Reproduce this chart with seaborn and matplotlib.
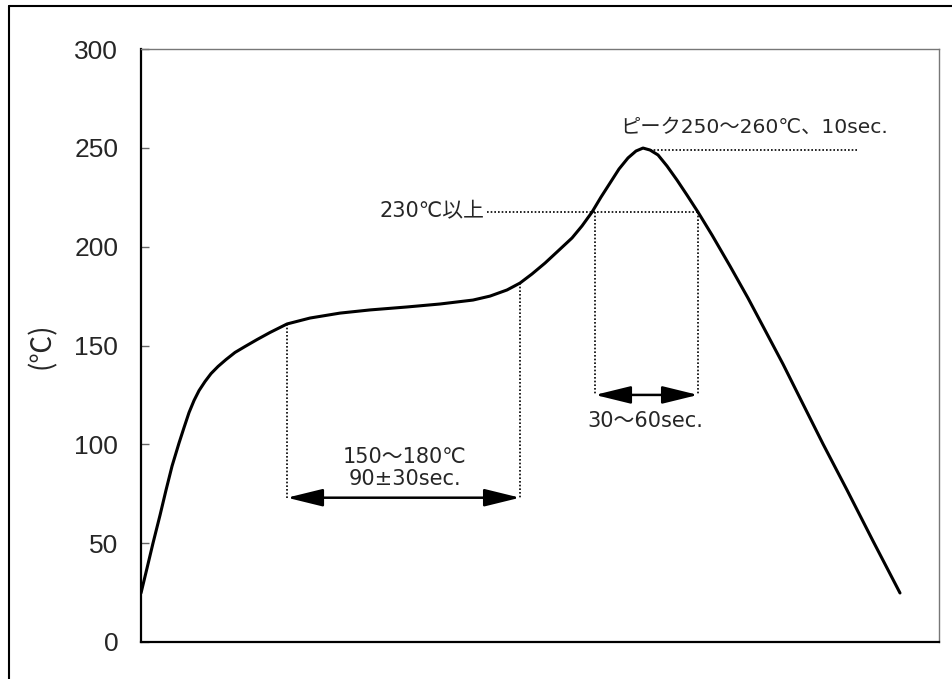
import numpy as np
import pandas as pd
import matplotlib
matplotlib.use("Agg")
import matplotlib.pyplot as plt
import seaborn as sns

# reflow profile (time in arbitrary seconds, temperature in C)
time_s = [0, 3, 6, 9.5, 12.5, 15.5, 19, 21.5, 24, 26.5, 29, 32, 35, 38.5, 42.5,
          47, 52, 58, 64.5, 73, 84.5, 99.5, 114.5, 133, 149.5, 166, 174.5, 183,
          189.5, 195.5, 202, 208.5, 215.5, 220.5, 225.5, 230, 234.5, 239, 243.5,
          247.5, 251, 254.5, 258.5, 263, 268, 273, 278.5, 285.5, 294.5, 303.5, 312,
          321, 329.5, 341, 353, 366, 379.5]
temp_c = [24.8, 37.4, 50.1, 64.2, 76.9, 89.0, 100.7, 108.5, 116.1, 122.2, 127.2,
          131.8, 135.8, 139.4, 142.9, 146.5, 149.5, 153.0, 156.6, 160.9, 163.9,
          166.4, 168.0, 169.5, 171.0, 173.0, 175.0, 178.1, 181.6, 186.2, 191.7,
          197.8, 204.4, 210.5, 217.5, 225.1, 232.2, 239.3, 244.9, 248.4, 249.9,
          248.9, 246.4, 240.8, 233.7, 226.1, 217.5, 205.9, 190.2, 174.0, 157.8,
          140.6, 123.4, 100.2, 76.9, 51.1, 24.8]

y_ticks = [0, 50, 100, 150, 200, 250, 300]

# annotation anchors
soak_x = [73, 189.5]
soak_top = [160.9, 181.6]
soak_arrow_t = 73
reflow_x = [227, 278.5]
reflow_t = 217.5
reflow_arrow_t = 125
peak_line_x = [254.5, 358.5]
peak_t = 249

sns.set_style("white")
plt.rcParams['font.family'] = ['DejaVu Sans', 'Noto Sans CJK JP']

fig = plt.figure(figsize=(9.53, 6.79), dpi=100)
ax = fig.add_axes([0.148, 0.0545, 0.8373, 0.8733])

sns.lineplot(x=time_s, y=temp_c, ax=ax, color='black', linewidth=2.2)

dot = dict(color='black', linewidth=1.2, linestyle=(0, (1, 1.2)))
arrow = dict(arrowstyle='<|-|>,head_length=1.1,head_width=0.27', mutation_scale=20,
             color='black', lw=1.8, shrinkA=0, shrinkB=0)

# soak zone
for xv, top in zip(soak_x, soak_top):
    ax.plot([xv, xv], [top, soak_arrow_t], **dot)
ax.annotate('', xy=(soak_x[1], soak_arrow_t), xytext=(soak_x[0], soak_arrow_t),
            arrowprops=arrow)
ax.text(132, 88, '150～180℃\n90±30sec.', ha='center', va='center',
        fontsize=15, linespacing=1.1)

# above 230
ax.plot([173, reflow_x[1]], [reflow_t, reflow_t], **dot)
for xv in reflow_x:
    ax.plot([xv, xv], [reflow_t, reflow_arrow_t], **dot)
ax.annotate('', xy=(reflow_x[1], reflow_arrow_t), xytext=(reflow_x[0], reflow_arrow_t),
            arrowprops=arrow)
ax.text(171.5, reflow_t + 0.5, '230℃以上', ha='right', va='center', fontsize=15)
ax.text(252, 112, '30～60sec.', ha='center', va='center', fontsize=15)

# peak
ax.plot(peak_line_x, [peak_t, peak_t], **dot)
ax.text(239.5, 260.5, 'ピーク250～260℃、10sec.', ha='left', va='center', fontsize=14.6)

ax.set_xlim(0, 399)
ax.set_ylim(0, 300)
ax.set_xticks([])
ax.set_yticks(y_ticks)
ax.tick_params(axis='y', direction='in', length=6, width=1, color='#666666',
               pad=16.5, labelsize=19, left=True)
for lab in ax.get_yticklabels():
    lab.set_fontfamily('Liberation Sans')

ax.set_ylabel('(℃)', fontsize=20, family=['Noto Sans CJK JP', 'DejaVu Sans'])
ax.yaxis.set_label_coords(-0.105, 0.5)

for side in ['left', 'bottom']:
    ax.spines[side].set_color('black')
    ax.spines[side].set_linewidth(1.6)
for side in ['top', 'right']:
    ax.spines[side].set_color('#777777')
    ax.spines[side].set_linewidth(1.0)

# outer frame of the picture
fig.add_artist(plt.Line2D([9 / 953, 9 / 953], [0, 1 - 6 / 679], transform=fig.transFigure,
                          color='black', linewidth=1.5))
fig.add_artist(plt.Line2D([9 / 953, 1], [1 - 6 / 679, 1 - 6 / 679], transform=fig.transFigure,
                          color='black', linewidth=1.5))

fig.savefig('out.png', dpi=100)
